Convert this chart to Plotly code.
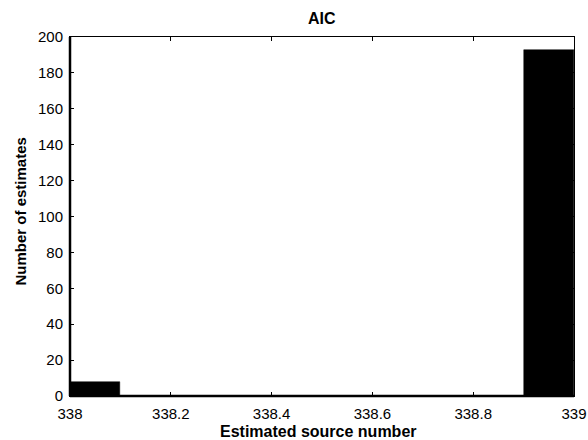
import plotly.graph_objects as go

bin_centers = [338.05, 338.95]
counts = [8, 193]
bin_width = 0.1
x_ticks = [338, 338.2, 338.4, 338.6, 338.8, 339]
x_tick_labels = ["338", "338.2", "338.4", "338.6", "338.8", "339"]
y_ticks = list(range(0, 201, 20))

L, R, T, B = 70, 14, 37, 44
W, H = 588, 440
ph = H - T - B
pw = W - L - R

fig = go.Figure()
fig.add_trace(go.Bar(
    x=bin_centers, y=counts, width=[bin_width] * len(bin_centers),
    marker=dict(color="black", line=dict(color="black", width=0.5)),
    showlegend=False, hoverinfo="skip",
))

fig.update_layout(
    width=W, height=H,
    margin=dict(l=L, r=R, t=T, b=B, autoexpand=False),
    paper_bgcolor="white", plot_bgcolor="white",
    font=dict(family="Liberation Sans, Arial, sans-serif", size=15, color="black"),
    bargap=0,
)
fig.update_xaxes(
    range=[338, 339], tickvals=x_ticks, ticktext=x_tick_labels,
    ticks="inside", ticklen=4, tickcolor="black",
    showline=True, linecolor="black", linewidth=1, mirror="ticks",
    showgrid=False, zeroline=False, automargin=False,
    tickfont=dict(size=15), ticklabelstandoff=4,
)
fig.update_yaxes(
    range=[0, 200], tickvals=y_ticks,
    ticks="inside", ticklen=4, tickcolor="black",
    showline=True, linecolor="black", linewidth=1, mirror="ticks",
    showgrid=False, zeroline=False, automargin=False,
    tickfont=dict(size=15), ticklabelstandoff=3,
)
# thicker left/bottom spines as in reference
fig.add_shape(type="line", xref="paper", yref="paper", x0=0, x1=0, y0=0, y1=1,
              line=dict(color="black", width=2.5))
fig.add_shape(type="line", xref="paper", yref="paper", x0=0, x1=1, y0=0, y1=0,
              line=dict(color="black", width=2.5))

# title and axis titles
fig.add_annotation(text="<b>AIC</b>", xref="paper", yref="paper",
                   x=0.5, y=1 + (T - 18.5) / ph, xanchor="center", yanchor="middle",
                   showarrow=False, font=dict(size=16))
fig.add_annotation(text="<b>Estimated source number</b>", xref="paper", yref="paper",
                   x=(318.5 - L) / pw, y=-(431 - (H - B)) / ph, xanchor="center", yanchor="middle",
                   showarrow=False, font=dict(size=16))
fig.add_annotation(text="<b>Number of estimates</b>", xref="paper", yref="paper",
                   x=-(L - 20) / pw, y=1 - (211.5 - T) / ph, xanchor="center", yanchor="middle",
                   textangle=-90, showarrow=False, font=dict(size=15))

fig.write_html("out.html", config={"displayModeBar": False},
               post_script="document.body.style.margin='0';document.body.style.overflow='hidden';")
